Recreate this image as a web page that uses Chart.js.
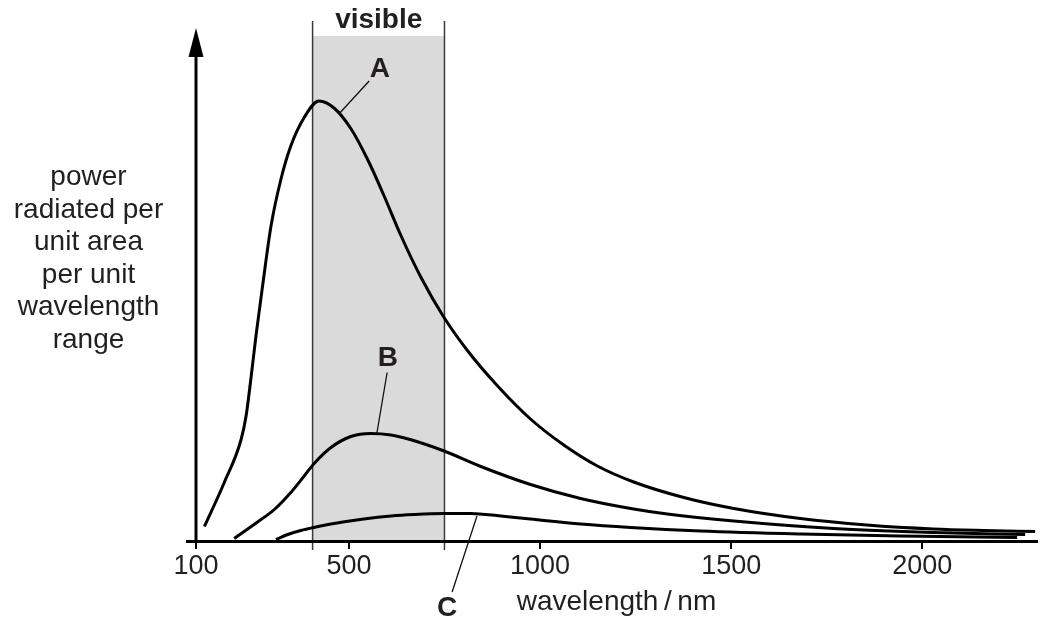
<!DOCTYPE html>
<html>
<head>
<meta charset="utf-8">
<script src="https://cdn.jsdelivr.net/npm/chart.js@4.4.1/dist/chart.umd.min.js"></script>
<style>
  html, body { margin: 0; padding: 0; background: #fff; }
</style>
</head>
<body>
<canvas id="chart" width="1053" height="625"></canvas>
<script>
// wavelength in nm, power in arbitrary units (axis has no numbers)
const curveAx = [122, 174, 218, 231, 244, 257, 274, 296, 322, 348, 383, 422, 461, 505, 549, 591, 636, 688, 748, 811, 889, 975, 1062, 1150, 1245, 1376, 1507, 1681, 1855, 2029, 2160, 2295];
const curveAy = [2.9, 11.7, 20.3, 25.0, 32.7, 41.1, 50.9, 62.9, 72.3, 79.0, 84.7, 88.0, 86.6, 82.5, 76.3, 69.2, 61.1, 52.8, 44.8, 38.0, 31.0, 24.4, 19.2, 15.0, 11.8, 8.7, 6.5, 4.5, 3.2, 2.4, 2.1, 1.9];

const curveBx = [200, 261, 305, 348, 383, 409, 453, 505, 557, 610, 660, 749, 845, 975, 1106, 1237, 1333, 1507, 1768, 2029, 2269];
const curveBy = [0.5, 3.8, 6.3, 9.7, 13.0, 15.5, 18.7, 20.9, 21.5, 21.2, 20.3, 18.0, 14.9, 11.3, 8.5, 6.5, 5.4, 4.0, 2.5, 1.7, 1.3];

const curveCx = [309, 340, 374, 414, 453, 539, 610, 670, 748, 819, 897, 975, 1106, 1237, 1420, 1682, 1942, 2248];
const curveCy = [0.3, 1.3, 2.1, 2.8, 3.4, 4.4, 5.0, 5.3, 5.5, 5.5, 5.0, 4.4, 3.4, 2.7, 2.0, 1.4, 1.0, 0.7];

const xTicks = [100, 500, 1000, 1500, 2000];
const visibleBand = [405, 750];

const yTitle = ['power', 'radiated per', 'unit area', 'per unit', 'wavelength', 'range'];

const FONT = '"Liberation Sans", Arial, Helvetica, sans-serif';
const INK = '#231f20';

function pts(xs, ys) {
    return xs.map((v, i) => ({ x: v, y: ys[i] }));
}

function curve(xs, ys) {
    return {
        data: pts(xs, ys),
        borderColor: '#000',
        borderWidth: 3,
        pointRadius: 0,
        fill: false,
        cubicInterpolationMode: 'monotone',
        borderJoinStyle: 'round'
    };
}

// labels and leader lines, in data coordinates
const notes = [
    { text: 'visible', x: 578, y: 102.6 },
    { text: 'A', x: 581, y: 92.8 },
    { text: 'B', x: 602, y: 35 },
    { text: 'C', x: 757, y: -15 }
];
const leaders = [
    [553, 92, 475, 85.5],
    [600, 33.7, 573, 21.5],
    [770, -10.2, 835, 5]
];

const extras = {
    id: 'extras',
    beforeDraw(chart) {
        const { ctx, chartArea: a, scales: { x, y } } = chart;
        const x0 = x.getPixelForValue(visibleBand[0]);
        const x1 = x.getPixelForValue(visibleBand[1]);
        const top = y.getPixelForValue(101);
        ctx.save();
        ctx.fillStyle = '#dadada';
        ctx.fillRect(x0, top, x1 - x0, a.bottom - top);
        ctx.strokeStyle = '#3a3a3a';
        ctx.lineWidth = 1.5;
        ctx.beginPath();
        [x0, x1].forEach(px => {
            ctx.moveTo(px, y.getPixelForValue(104));
            ctx.lineTo(px, a.bottom + 9);
        });
        ctx.stroke();
        ctx.restore();
    },
    afterDraw(chart) {
        const { ctx, chartArea: a, scales: { x, y } } = chart;
        ctx.save();

        // y axis with arrow
        const tip = y.getPixelForValue(102.6);
        ctx.strokeStyle = '#000';
        ctx.lineWidth = 3;
        ctx.beginPath();
        ctx.moveTo(a.left, a.bottom + 1);
        ctx.lineTo(a.left, tip + 20);
        ctx.stroke();
        ctx.fillStyle = '#000';
        ctx.beginPath();
        ctx.moveTo(a.left, tip);
        ctx.lineTo(a.left + 7.5, tip + 29);
        ctx.lineTo(a.left - 7.5, tip + 29);
        ctx.closePath();
        ctx.fill();

        // x axis runs a little past the y axis
        ctx.beginPath();
        ctx.moveTo(a.left - 10, a.bottom + 0.5);
        ctx.lineTo(a.left, a.bottom + 0.5);
        ctx.stroke();

        // leader lines
        ctx.lineWidth = 1.3;
        ctx.strokeStyle = '#111';
        ctx.beginPath();
        leaders.forEach(l => {
            ctx.moveTo(x.getPixelForValue(l[0]), y.getPixelForValue(l[1]));
            ctx.lineTo(x.getPixelForValue(l[2]), y.getPixelForValue(l[3]));
        });
        ctx.stroke();

        // bold labels
        ctx.fillStyle = INK;
        ctx.textAlign = 'center';
        ctx.textBaseline = 'alphabetic';
        ctx.font = 'bold 28px ' + FONT;
        notes.forEach(n => {
            ctx.fillText(n.text, x.getPixelForValue(n.x), y.getPixelForValue(n.y));
        });

        // y axis title
        ctx.font = '28px ' + FONT;
        yTitle.forEach((t, i) => {
            ctx.fillText(t, a.left - 107.5, 185 + i * 32.5);
        });
        ctx.restore();
    }
};

new Chart(document.getElementById('chart'), {
    type: 'line',
    data: {
        datasets: [curve(curveAx, curveAy), curve(curveBx, curveBy), curve(curveCx, curveCy)]
    },
    options: {
        responsive: false,
        animation: false,
        layout: { padding: { left: 196, right: 16, top: 16, bottom: 0 } },
        plugins: { legend: { display: false }, tooltip: { enabled: false } },
        scales: {
            x: {
                type: 'linear',
                min: 100,
                max: 2300,
                afterBuildTicks: s => { s.ticks = xTicks.map(v => ({ value: v })); },
                afterFit: s => { s.height = 84; },
                grid: { display: true, drawOnChartArea: false, drawTicks: true, tickLength: 8, color: '#000', lineWidth: 2 },
                border: { display: true, color: '#000', width: 3 },
                ticks: {
                    padding: 1,
                    color: INK,
                    font: { family: FONT, size: 27 },
                    maxRotation: 0,
                    autoSkip: false,
                    callback: v => String(v)
                },
                title: {
                    display: true,
                    text: 'wavelength\u2009/\u2009nm',
                    color: INK,
                    font: { family: FONT, size: 28 },
                    padding: { top: 0, bottom: 6 }
                }
            },
            y: {
                display: false,
                min: 0,
                max: 105
            }
        }
    },
    plugins: [extras]
});
</script>
</body>
</html>
